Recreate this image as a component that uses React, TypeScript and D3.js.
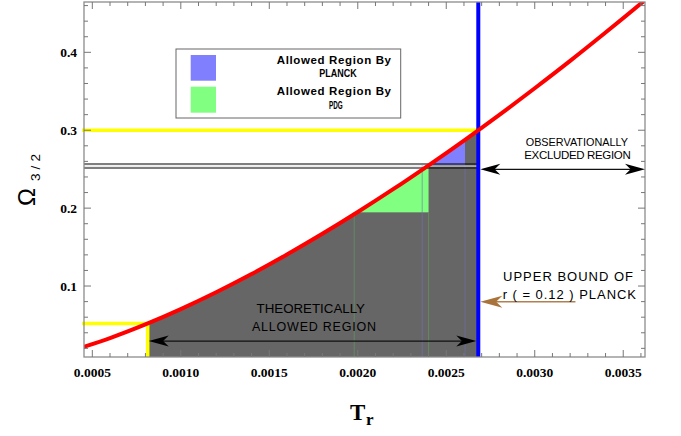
import React from "react";
import * as d3 from "d3";

const curveT = [0.00045, 0.0006, 0.0008, 0.001, 0.0012, 0.0014, 0.0016, 0.0018, 0.002, 0.0022, 0.0024, 0.0026, 0.0028, 0.003, 0.0032, 0.0034, 0.0036, 0.0037];
const curveOmega = [0.0218, 0.0332, 0.0507, 0.0704, 0.092, 0.1154, 0.1405, 0.167, 0.195, 0.2243, 0.255, 0.2868, 0.3198, 0.3539, 0.389, 0.4254, 0.4627, 0.482];

const xTicks = [0.0005, 0.001, 0.0015, 0.002, 0.0025, 0.003, 0.0035];
const xTickLabels = ["0.0005", "0.0010", "0.0015", "0.0020", "0.0025", "0.0030", "0.0035"];
const yTicks = [0.1, 0.2, 0.3, 0.4];
const yTickLabels = ["0.1", "0.2", "0.3", "0.4"];

// theoretically allowed range
const tMin = 0.000813;
const tMax = 0.002681;
const omegaLow = 0.052;
const omegaHigh = 0.3;
// PDG (green) and PLANCK (blue) boxes
const greenT = [0.00198, 0.0024];
const greenOmega = 0.1946;
const blueT = [0.002364, 0.002606];
const blueOmega = 0.2553;
const blackLines = [0.2566, 0.2515];
const greyLine = 0.254;
const theoArrowOmega = 0.0294;
const obsArrowOmega = 0.2498;
const brownArrowOmega = 0.0798;
const brownArrowStartT = 0.00323;

const W = 681, H = 436;
const L = 84, R = 645, T = 2, B = 357;

const sans = "'Liberation Sans', Arial, Helvetica, sans-serif";
const serif = "'Liberation Serif', 'Times New Roman', 'DejaVu Serif', serif";

export default function App() {
  const x = d3.scaleLinear().domain([0.000453, 0.003623]).range([L, R]);
  const y = d3.scaleLinear().domain([0.0089, 0.4646]).range([B, T]);
  const pts: [number, number][] = curveT.map((t, i) => [t, curveOmega[i]]);
  const line = d3.line<[number, number]>().x(d => x(d[0])).y(d => y(d[1])).curve(d3.curveMonotoneX);
  const area = d3.area<[number, number]>().x(d => x(d[0])).y0(B).y1(d => y(d[1])).curve(d3.curveMonotoneX);

  const minorX = d3.range(5, 37).map(i => i * 0.0001);
  const minorY = d3.range(1, 24).map(i => i * 0.02);

  const arrowHead = (tipX: number, tipY: number, dir: number, color: string, len = 20, hw = 5.5) => {
    const bx = tipX - dir * len;
    const nx = tipX - dir * len * 0.72;
    return <path d={`M${tipX},${tipY} L${bx},${tipY - hw} L${nx},${tipY} L${bx},${tipY + hw} Z`} fill={color} />;
  };

  const sansStyle = { fontFamily: sans };
  const sansBold = { fontFamily: sans, fontWeight: 700 as const };
  const serifBold = { fontFamily: serif, fontWeight: 700 as const };

  return (
    <svg width={W} height={H} style={{ position: "absolute", left: 0, top: 0 }}>
      <defs>
        <clipPath id="under">
          <path d={area(pts) || ""} />
        </clipPath>
        <clipPath id="plot">
          <rect x={L} y={T} width={R - L} height={B - T} />
        </clipPath>
      </defs>
      <rect width={W} height={H} fill="#fff" />
      {/* regions */}
      <g clipPath="url(#under)">
        <rect x={x(tMin)} y={T} width={x(tMax) - x(tMin)} height={B - T} fill="#666666" />
        <rect x={x(greenT[0])} y={T} width={x(greenT[1]) - x(greenT[0])} height={y(greenOmega) - T} fill="#80ff80" />
        <rect x={x(blueT[0])} y={T} width={x(blueT[1]) - x(blueT[0])} height={y(blueOmega) - T} fill="#8080ff" />
      </g>
      {/* thin vertical lines */}
      {greenT.map((t, i) => (
        <line key={"g" + i} x1={x(t)} x2={x(t)} y1={B} y2={y(greenOmega)} stroke="#5fa05f" strokeWidth={0.6} />
      ))}
      {blueT.map((t, i) => (
        <line key={"b" + i} x1={x(t)} x2={x(t)} y1={B} y2={y(blueOmega)} stroke="#7070b8" strokeWidth={0.6} />
      ))}
      {/* black horizontal lines */}
      <line x1={L} x2={x(tMax)} y1={y(greyLine)} y2={y(greyLine)} stroke="#ddd" strokeWidth={1} />
      {blackLines.map((o, i) => (
        <line key={"k" + i} x1={L} x2={x(tMax)} y1={y(o)} y2={y(o)} stroke="#000" strokeWidth={1.1} />
      ))}
      {/* yellow lines */}
      <line x1={L - 2} x2={x(tMax)} y1={y(omegaHigh)} y2={y(omegaHigh)} stroke="#ffff00" strokeWidth={3.5} />
      <path d={`M${L - 2},${y(omegaLow)} H${x(tMin)} V${B}`} fill="none" stroke="#ffff00" strokeWidth={3.5} />
      {/* blue vertical line */}
      <line x1={x(tMax)} x2={x(tMax)} y1={T} y2={B} stroke="#0000ff" strokeWidth={4} />
      {/* red curve */}
      <path d={line(pts) || ""} fill="none" stroke="#ff0000" strokeWidth={4} clipPath="url(#plot)" />
      {/* frame */}
      <rect x={L} y={T} width={R - L} height={B - T} fill="none" stroke="#8c8c8c" strokeWidth={1.3} />
      {minorX.map((t, i) => {
        const major = xTicks.some(v => Math.abs(v - t) < 1e-9);
        const len = major ? 7 : 4;
        return (
          <g key={"xt" + i} stroke="#777" strokeWidth={1}>
            <line x1={x(t)} x2={x(t)} y1={B} y2={B - len} />
            <line x1={x(t)} x2={x(t)} y1={T} y2={T + len} />
          </g>
        );
      })}
      {minorY.map((o, i) => {
        const major = yTicks.some(v => Math.abs(v - o) < 1e-9);
        const len = major ? 7 : 4;
        return (
          <g key={"yt" + i} stroke="#777" strokeWidth={1}>
            <line x1={L} x2={L + len} y1={y(o)} y2={y(o)} />
            <line x1={R} x2={R - len} y1={y(o)} y2={y(o)} />
          </g>
        );
      })}
      {/* tick labels */}
      {xTicks.map((t, i) => (
        <text key={"xl" + i} x={x(t)} y={377} textAnchor="middle" style={serifBold} fontSize={13.5}>
          {xTickLabels[i]}
        </text>
      ))}
      {yTicks.map((o, i) => (
        <text key={"yl" + i} x={77} y={y(o) + 5} textAnchor="end" style={serifBold} fontSize={13.5}>
          {yTickLabels[i]}
        </text>
      ))}
      {/* axis labels */}
      <g transform="translate(35,206) rotate(-90)">
        <text x={0} y={0} style={sansStyle} fontSize={24}>Ω</text>
        <text x={25} y={5} style={sansStyle} fontSize={13.5} textLength={27} lengthAdjust="spacing">3 / 2</text>
      </g>
      <text x={350} y={420} style={serifBold} fontSize={23}>T</text>
      <text x={366} y={425} style={serifBold} fontSize={17}>r</text>
      {/* theoretically allowed arrow */}
      <line x1={x(tMin) + 10} x2={x(tMax) - 10} y1={y(theoArrowOmega)} y2={y(theoArrowOmega)} stroke="#111" strokeWidth={1.2} />
      {arrowHead(x(tMin) + 1, y(theoArrowOmega), -1, "#000")}
      {arrowHead(x(tMax) - 2, y(theoArrowOmega), 1, "#000")}
      <text x={256.5} y={312.5} style={sansStyle} fontSize={12.5} textLength={108.5} lengthAdjust="spacingAndGlyphs">THEORETICALLY</text>
      <text x={252} y={331} style={sansStyle} fontSize={12.5} textLength={124} lengthAdjust="spacing">ALLOWED   REGION</text>
      {/* observationally excluded arrow */}
      <line x1={x(tMax) + 10} x2={R - 10} y1={y(obsArrowOmega)} y2={y(obsArrowOmega)} stroke="#111" strokeWidth={1.2} />
      {arrowHead(x(tMax) + 2, y(obsArrowOmega), -1, "#000")}
      {arrowHead(R, y(obsArrowOmega), 1, "#000")}
      <text x={525.7} y={146} style={sansStyle} fontSize={11.5} textLength={102.3} lengthAdjust="spacingAndGlyphs">OBSERVATIONALLY</text>
      <text x={524.3} y={158.7} style={sansStyle} fontSize={11.5} textLength={106.4} lengthAdjust="spacing">EXCLUDED   REGION</text>
      {/* brown arrow */}
      <line x1={x(tMax) + 12} x2={x(brownArrowStartT)} y1={y(brownArrowOmega)} y2={y(brownArrowOmega)} stroke="#b08050" strokeWidth={1.5} />
      {arrowHead(x(tMax) + 2, y(brownArrowOmega), -1, "#a8743c", 22, 6)}
      <text x={503} y={281} style={sansStyle} fontSize={13} textLength={130} lengthAdjust="spacing">UPPER  BOUND  OF</text>
      <text x={502.7} y={299.3} style={sansStyle} fontSize={13} textLength={133.3} lengthAdjust="spacing">r ( = 0.12 )  PLANCK</text>
      {/* legend */}
      <rect x={176} y={49} width={224.7} height={69} fill="#fff" stroke="#666" strokeWidth={1} />
      <rect x={190.7} y={55} width={25.3} height={25.7} fill="#8080ff" />
      <rect x={190.7} y={86.7} width={25.3} height={26} fill="#80ff80" />
      <text x={276.7} y={63.5} style={sansBold} fontSize={11.5} textLength={114.3} lengthAdjust="spacing">Allowed  Region  By</text>
      <text x={319.3} y={77} style={sansBold} fontSize={11} textLength={37.4} lengthAdjust="spacingAndGlyphs">PLANCK</text>
      <text x={276.7} y={95} style={sansBold} fontSize={11.5} textLength={114.3} lengthAdjust="spacing">Allowed  Region  By</text>
      <text x={329} y={108.6} style={sansBold} fontSize={11} textLength={13.7} lengthAdjust="spacingAndGlyphs">PDG</text>
    </svg>
  );
}
